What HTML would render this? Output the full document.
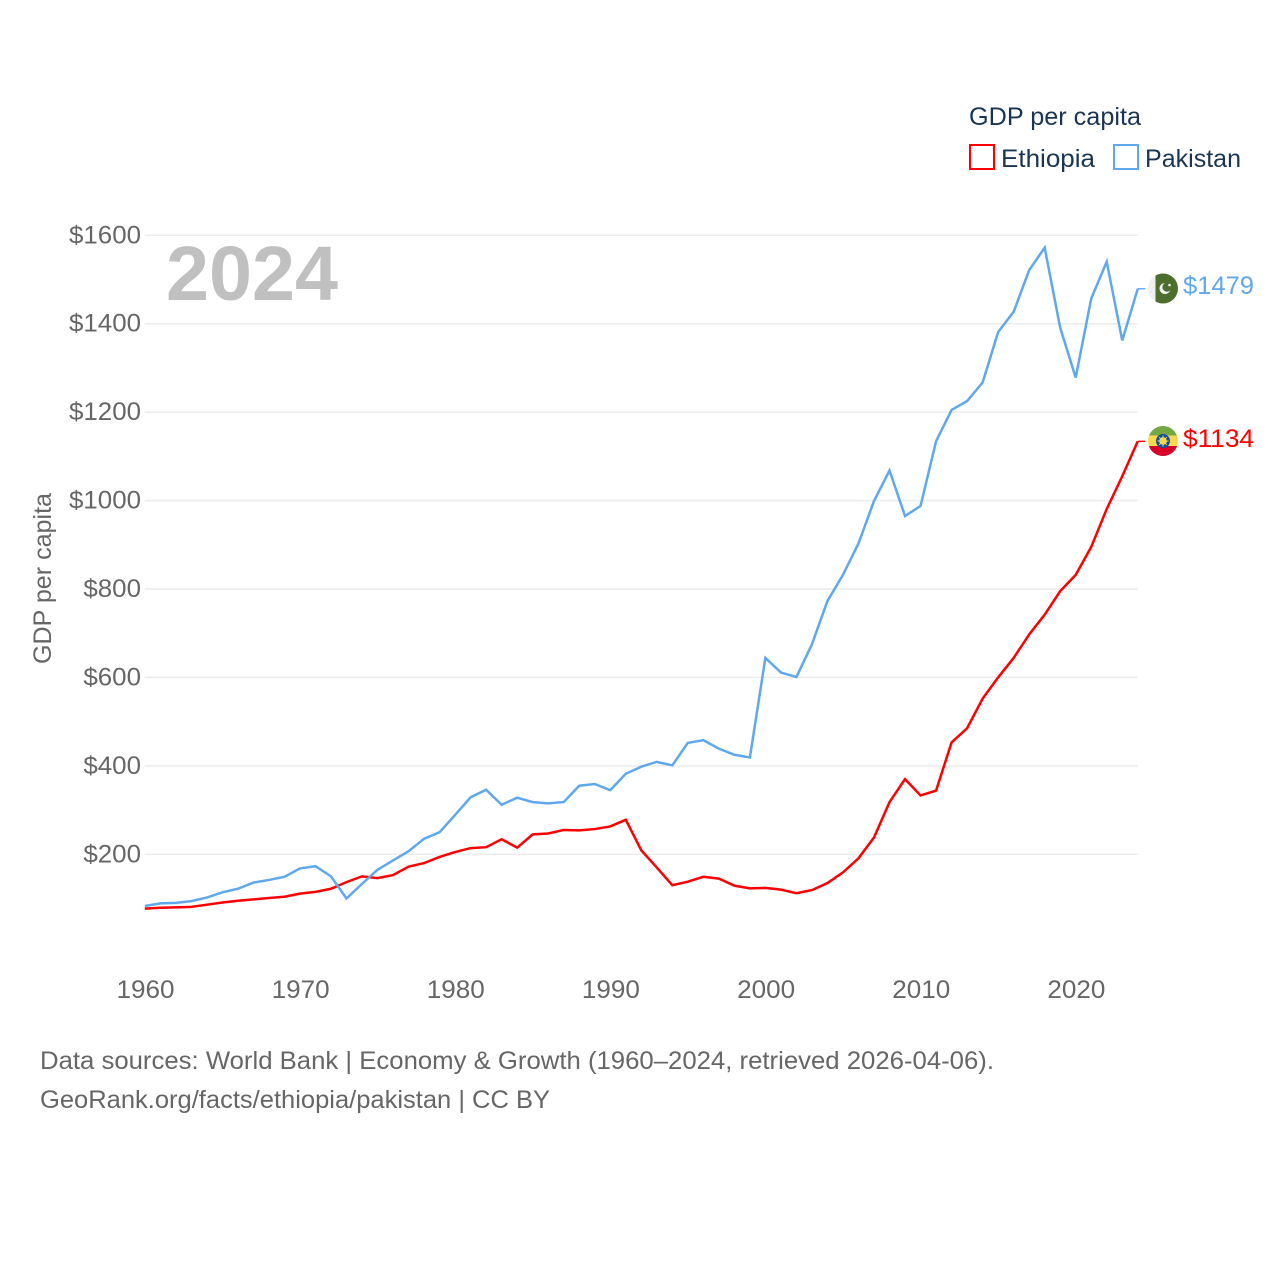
<!DOCTYPE html>
<html lang="en">
<head>
<meta charset="utf-8">
<title>GDP per capita: Ethiopia and Pakistan</title>
<style>
html,body{margin:0;padding:0;background:#fff;width:1280px;height:1280px;overflow:hidden}
svg{display:block}
text{font-family:"Liberation Sans",sans-serif}
</style>
</head>
<body>
<svg id="chart" width="1280" height="1280" viewBox="0 0 1280 1280" xmlns="http://www.w3.org/2000/svg">
  <rect width="1280" height="1280" fill="#fff"/>
  <g id="grid"></g>
  <g id="yticks"></g>
  <g id="xticks"></g>
  <text x="166" y="300" font-size="77" font-weight="700" fill="#c0c0c0" textLength="172" lengthAdjust="spacingAndGlyphs">2024</text>
  <text transform="translate(51,664) rotate(-90)" font-size="25" fill="#666" textLength="171" lengthAdjust="spacingAndGlyphs">GDP per capita</text>
  <g id="series"></g>

  <g>
    <text x="969" y="125" font-size="25" fill="#1a3553" textLength="172" lengthAdjust="spacingAndGlyphs">GDP per capita</text>
    <rect x="970" y="145" width="24" height="24" fill="#fff" stroke="#ff0000" stroke-width="2"/>
    <text x="1001" y="167" font-size="25" fill="#1a3553" textLength="94" lengthAdjust="spacingAndGlyphs">Ethiopia</text>
    <rect x="1114" y="145" width="24" height="24" fill="#fff" stroke="#5fa8ee" stroke-width="2"/>
    <text x="1145" y="167" font-size="25" fill="#1a3553" textLength="96" lengthAdjust="spacingAndGlyphs">Pakistan</text>
  </g>

  <defs>
    <clipPath id="flag-clip-pk"><circle cx="1163" cy="288.5" r="15"/></clipPath>
    <clipPath id="flag-clip-et"><circle cx="1163" cy="441" r="15"/></clipPath>
  </defs>
  <g clip-path="url(#flag-clip-pk)">
    <rect x="1148" y="273" width="30" height="31" fill="#efefef"/>
    <rect x="1155.5" y="273" width="23" height="31" fill="#4d6f2e"/>
    <circle cx="1165" cy="288.5" r="5.5" fill="#f2f2f2"/>
    <circle cx="1167" cy="287" r="4.6" fill="#4d6f2e"/>
    <circle cx="1169.5" cy="285" r="1.3" fill="#f2f2f2"/>
  </g>
  <g clip-path="url(#flag-clip-et)">
    <rect x="1148" y="426" width="30" height="10" fill="#75a843"/>
    <rect x="1148" y="435.5" width="30" height="11" fill="#fcd94a"/>
    <rect x="1148" y="446" width="30" height="11" fill="#d80027"/>
    <circle cx="1163" cy="441" r="7" fill="#0f4fa8"/>
    <circle cx="1163" cy="441" r="3.8" fill="#fcd94a"/>
    <path d="M1163 435.5v11M1157.5 441h11M1159.2 437.2l7.6 7.6M1166.8 437.2l-7.6 7.6" stroke="#fcd94a" stroke-width="1"/>
  </g>
  <text x="1183" y="294" font-size="25" fill="#5fa8ee" textLength="71" lengthAdjust="spacingAndGlyphs">$1479</text>
  <text x="1183" y="447" font-size="25" fill="#ff0000" textLength="71" lengthAdjust="spacingAndGlyphs">$1134</text>

  <text x="40" y="1069" font-size="25" fill="#666" textLength="954" lengthAdjust="spacingAndGlyphs">Data sources: World Bank | Economy &amp; Growth (1960–2024, retrieved 2026-04-06).</text>
  <text x="40" y="1108" font-size="25" fill="#666" textLength="510" lengthAdjust="spacingAndGlyphs">GeoRank.org/facts/ethiopia/pakistan | CC BY</text>
</svg>
<script>
const startYear = 1960;
const ethiopia = [77,79,80,81,86,91,95,98,101,104,111,115,122,137,150,146,153,172,180,194,205,214,216,234,215,245,247,255,254,257,263,278,209,170,130,138,149,145,129,123,124,120,112,119,135,159,191,238,318,370,333,344,453,485,552,600,644,697,742,795,832,895,981,1055,1134];
const pakistan = [83,89,90,94,102,114,122,136,142,149,168,173,150,100,133,165,186,207,235,250,289,329,346,312,328,318,315,318,355,359,345,382,398,409,401,452,458,439,425,419,644,611,601,675,773,832,903,999,1068,965,988,1134,1205,1225,1267,1381,1427,1521,1572,1391,1278,1457,1540,1362,1479];
const yTickValues = [200,400,600,800,1000,1200,1400,1600];
const xTickValues = [1960,1970,1980,1990,2000,2010,2020];

const NS = 'http://www.w3.org/2000/svg';
const xScale = year => 144.8 + (year - 1960) * 15.515;
const yScale = value => 942.7 - value * 0.44214;
const lastYear = startYear + ethiopia.length - 1;

const grid = document.getElementById('grid');
const yticks = document.getElementById('yticks');
const xticks = document.getElementById('xticks');
const seriesGroup = document.getElementById('series');

yTickValues.forEach(v => {
  const line = document.createElementNS(NS, 'line');
  
  
  line.setAttribute('x1', xScale(1960));
  line.setAttribute('x2', xScale(lastYear));
  line.setAttribute('y1', yScale(v));
  line.setAttribute('y2', yScale(v));
  line.setAttribute('stroke', '#ececec');
  line.setAttribute('stroke-width', '1.5');
  grid.appendChild(line);

  const label = document.createElementNS(NS, 'text');
  
  
  label.setAttribute('x', 141);
  label.setAttribute('y', yScale(v) + 8);
  label.setAttribute('text-anchor', 'end');
  label.setAttribute('font-size', '25');
  label.setAttribute('fill', '#666');
  const text = '$' + v;
  label.setAttribute('textLength', text.length * 14.4);
  label.setAttribute('lengthAdjust', 'spacingAndGlyphs');
  label.textContent = text;
  yticks.appendChild(label);
});

xTickValues.forEach(year => {
  const label = document.createElementNS(NS, 'text');
  
  
  label.setAttribute('x', xScale(year) + 0.7);
  label.setAttribute('y', 998);
  label.setAttribute('text-anchor', 'middle');
  label.setAttribute('font-size', '25');
  label.setAttribute('fill', '#666');
  label.setAttribute('textLength', 58);
  label.setAttribute('lengthAdjust', 'spacingAndGlyphs');
  label.textContent = year;
  xticks.appendChild(label);
});

function drawSeries(values, color, lineName, connectorName) {
  const pts = values.map((v, i) => xScale(startYear + i).toFixed(2) + ',' + yScale(v).toFixed(2));
  const path = document.createElementNS(NS, 'polyline');
  
  
  path.setAttribute('points', pts.join(' '));
  path.setAttribute('fill', 'none');
  path.setAttribute('stroke', color);
  path.setAttribute('stroke-width', '2.5');
  path.setAttribute('stroke-linejoin', 'miter');
  seriesGroup.appendChild(path);

  const lastY = yScale(values[values.length - 1]);
  const connector = document.createElementNS(NS, 'line');
  
  
  connector.setAttribute('x1', xScale(lastYear));
  connector.setAttribute('x2', xScale(lastYear) + 7.5);
  connector.setAttribute('y1', lastY);
  connector.setAttribute('y2', lastY);
  connector.setAttribute('stroke', color);
  connector.setAttribute('stroke-width', '1.4');
  seriesGroup.appendChild(connector);
}

drawSeries(ethiopia, '#ff0000', 'ethiopia-line', 'ethiopia-label-connector');
drawSeries(pakistan, '#5fa8ee', 'pakistan-line', 'pakistan-label-connector');
</script>
</body>
</html>
